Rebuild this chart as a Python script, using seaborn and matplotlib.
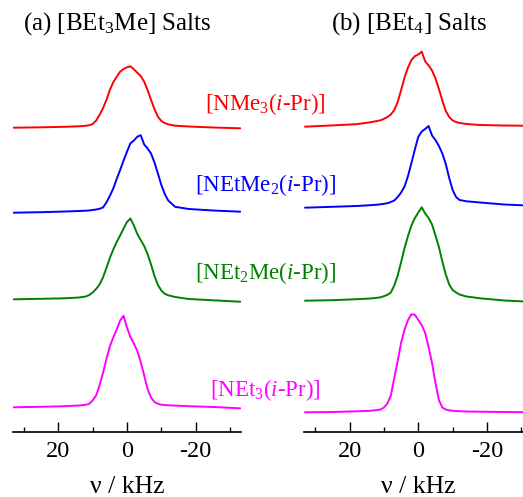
import pandas as pd
import matplotlib
matplotlib.use("Agg")
import matplotlib.pyplot as plt
import seaborn as sns

# frequency grid (kHz) shared by all traces
freq = [33, 25, 18, 14, 12, 11, 10, 9, 8, 7, 6, 5, 4, 3, 2, 1, 0,
        -1, -2, -3, -4, -5, -6, -7, -8, -9, -10, -11, -12, -14, -18, -25, -33]

samples = ["NMe3(i-Pr)", "NEtMe2(i-Pr)", "NEt2Me(i-Pr)", "NEt3(i-Pr)"]
sample_labels = ["[NMe$_3$($i$-Pr)]", "[NEtMe$_2$($i$-Pr)]",
                 "[NEt$_2$Me($i$-Pr)]", "[NEt$_3$($i$-Pr)]"]
colors = ["#ff0000", "#0000ff", "#008000", "#ff00ff"]

# (a) [BEt3Me] salts, intensities (a.u.)
a_nme3 = [0, 0.4, 0.9, 1.4, 1.9, 2.5, 3.7, 7, 12.7, 19.4, 27.7, 37.7, 45.4, 51, 56, 58.7, 60.4,
          61.4, 58.4, 55, 51.7, 46, 37.7, 27.7, 18.7, 11, 6.7, 4.6, 3.4, 2, 1.2, 0.2, -0.6]
a_netme2 = [0, 0.5, 1.2, 1.7, 2.0, 2.2, 2.7, 3.2, 3.9, 5.2, 10.2, 16.7, 24.2, 33.7, 42.7, 52.2, 61,
            69.4, 72.2, 76, 77.5, 68.2, 64.2, 59.2, 50.2, 39.2, 27.7, 18.7, 12.2, 5.9, 3.7, 2.2, 1]
a_net2me = [0, 0.5, 1, 1.8, 2.8, 4.3, 6.8, 10.3, 14.8, 21.8, 31.3, 41.3, 49.8, 57.3, 63.8, 70.8, 77.3,
            80.8, 73.8, 65.3, 59.3, 53.3, 45.3, 34.8, 23.3, 14.3, 8.8, 5.5, 4, 2.3, 0.3, -1, -2.4]
a_net3 = [0, 0.5, 1.1, 1.8, 2.5, 3.5, 6.8, 11.8, 21.8, 34.3, 48.3, 60.8, 69.8, 77.8, 86.8, 91.5, 79.6,
          70.3, 63.8, 56.3, 45.3, 31.8, 18.3, 9.8, 5.3, 3.5, 2.6, 2.3, 2, 1.7, 1.1, 0.3, -1]

# (b) [BEt4] salts
b_nme3 = [0, 1.3, 2.5, 4.4, 5.7, 6.4, 7.9, 9.7, 12.2, 16.7, 24.7, 36.7, 49.2, 59.2, 66.7, 70.5, 72.2,
          75, 65.3, 61.2, 56.2, 48.2, 37.7, 26.2, 15.7, 9.7, 6.2, 4.7, 3.7, 2.7, 1.7, 1.2, 0.9]
b_netme2 = [0, 0.9, 1.7, 2.5, 3, 3.4, 3.9, 4.5, 5.7, 7.2, 10.7, 15.2, 21.2, 31.7, 44.7, 58.2, 71,
            76.2, 78.7, 81.7, 72.2, 67.7, 61.7, 54.2, 43.7, 29.7, 17.7, 10.7, 7.7, 6.4, 5.2, 3.2, 2]
b_net2me = [0, 0.5, 1.5, 2.2, 2.9, 3.4, 4.5, 5.9, 8.2, 15.2, 25.2, 38.7, 52.7, 64.7, 75.2, 82.7, 88.2,
            93.4, 87.2, 82.7, 76.2, 65.2, 53.7, 39.2, 26.2, 16.2, 10.7, 8.2, 6.2, 4.2, 2.4, 0.2, -1.1]
b_net3 = [0, 0.3, 1, 1.5, 2.3, 2.8, 4.8, 8.8, 16.8, 34.3, 51.3, 69.8, 82.8, 92.3, 98, 97.5, 92.3,
          87.3, 79.3, 65.3, 49.3, 29.3, 12.3, 4.8, 2.8, 2, 1.5, 1.3, 1.1, 0.8, 0.6, 0.3, 0]

# vertical stacking of the traces
a_offsets = [304, 219, 132.4, 24.4]
b_offsets = [305, 224, 131, 19.4]

sns.set_theme(style="white")
plt.rcParams["font.family"] = ["Liberation Serif", "DejaVu Serif"]
plt.rcParams["mathtext.fontset"] = "custom"
plt.rcParams["mathtext.rm"] = "Liberation Serif"
plt.rcParams["mathtext.it"] = "Liberation Serif:italic"
plt.rcParams["text.color"] = "black"
plt.rcParams["axes.labelcolor"] = "black"
plt.rcParams["xtick.color"] = "black"


def build(traces, offsets):
    rows = []
    for name, vals, off in zip(samples, traces, offsets):
        for f, v in zip(freq, vals):
            rows.append({"freq": f, "signal": v + off, "sample": name})
    return pd.DataFrame(rows)


df_a = build([a_nme3, a_netme2, a_net2me, a_net3], a_offsets)
df_b = build([b_nme3, b_netme2, b_net2me, b_net3], b_offsets)

fig = plt.figure(figsize=(5.23, 4.97), dpi=100)
ax_a = fig.add_axes([13 / 523, 65.3 / 497, 228 / 523, 386.7 / 497])
ax_b = fig.add_axes([304.3 / 523, 65.3 / 497, 228 / 523, 386.7 / 497])

for ax, df in [(ax_a, df_a), (ax_b, df_b)]:
    sns.lineplot(data=df, x="freq", y="signal", hue="sample", hue_order=samples,
                 palette=colors, linewidth=1.4, legend=False, ax=ax)
    ax.set_xlim(33.2, -33.2)
    ax.set_ylim(0, 386.7)
    ax.set_xticks([20, 0, -20])
    ax.set_xticklabels(["20", "0", "-20"])
    ax.set_xticks([30, 10, -10, -30], minor=True)
    ax.tick_params(axis="x", which="major", direction="in", length=7, width=1,
                   labelsize=17.5, pad=7, color="black", labelcolor="black", bottom=True)
    ax.tick_params(axis="x", which="minor", direction="in", length=3.6, width=1,
                   color="black", bottom=True)
    ax.set_yticks([])
    ax.set_ylabel("")
    ax.set_xlabel("ν / kHz", fontsize=18.5, labelpad=10, color="black")
    for side in ["left", "right", "top"]:
        ax.spines[side].set_visible(False)
    ax.spines["bottom"].set_color("black")
    ax.spines["bottom"].set_linewidth(1.2)
    ax.set_facecolor("none")

fig.text(23 / 523, 1 - 30 / 497, "(a) [BEt$_3$Me] Salts", fontsize=18, va="baseline", color="black")
fig.text(331 / 523, 1 - 30 / 497, "(b) [BEt$_4$] Salts", fontsize=18, va="baseline", color="black")

label_baselines = [110, 190.7, 279.3, 395.7]
for text, c, yb in zip(sample_labels, colors, label_baselines):
    fig.text(265.5 / 523, 1 - yb / 497, text, color=c, fontsize=16.5,
             ha="center", va="baseline")

fig.savefig("out.png", dpi=100)
